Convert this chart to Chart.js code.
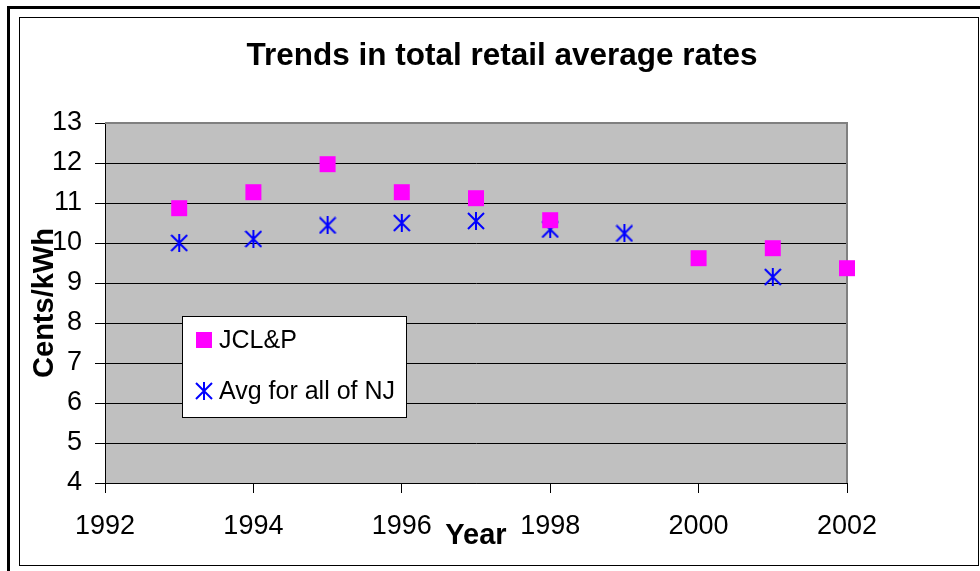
<!DOCTYPE html>
<html>
<head>
<meta charset="utf-8">
<title>Trends in total retail average rates</title>
<script src="https://cdn.jsdelivr.net/npm/chart.js@4.4.1/dist/chart.umd.min.js"></script>
<style>
  html, body { margin: 0; padding: 0; background: #ffffff; }
  #wrap { width: 980px; height: 571px; position: relative; }
</style>
</head>
<body>
<div id="wrap"><canvas id="rates" width="980" height="571"></canvas></div>
<script>
// Years and average retail rates (cents per kWh); null = no value that year
const years = [1993, 1994, 1995, 1996, 1997, 1998, 1999, 2000, 2001, 2002];
const jclpRates = [10.87, 11.27, 11.97, 11.27, 11.12, 10.57, null, 9.62, 9.87, 9.37];
const njAvgRates = [10.0, 10.1, 10.44, 10.5, 10.55, 10.34, 10.24, null, 9.15, null];
const seriesNames = ['JCL&P', 'Avg for all of NJ'];
const xTickValues = [1992, 1994, 1996, 1998, 2000, 2002];
const yTickValues = [4, 5, 6, 7, 8, 9, 10, 11, 12, 13];
const chartTitle = 'Trends in total retail average rates';
const xAxisTitle = 'Year';
const yAxisTitle = 'Cents/kWh';

const FONT = '"Liberation Sans", Arial, Helvetica, sans-serif';
Chart.defaults.font.family = FONT;
Chart.defaults.color = '#000000';

function toPoints(values) {
  const pts = [];
  values.forEach((v, i) => { if (v !== null) pts.push({ x: years[i], y: v }); });
  return pts;
}

// Asterisk marker: one vertical stroke plus two diagonals
function makeAsterisk(size, color, lw) {
  const c = document.createElement('canvas');
  c.width = size; c.height = size;
  const g = c.getContext('2d');
  g.strokeStyle = color;
  g.lineWidth = lw;
  g.lineCap = 'butt';
  g.beginPath();
  g.moveTo(size / 2, 0); g.lineTo(size / 2, size);
  g.moveTo(1, 1); g.lineTo(size - 1, size - 1);
  g.moveTo(size - 1, 1); g.lineTo(1, size - 1);
  g.stroke();
  return c;
}
const asterisk = makeAsterisk(18, '#0000FF', 2);

// Page frame, plot background and plot border
const framePlugin = {
  id: 'frame',
  beforeDraw(chart) {
    const ctx = chart.ctx;
    const a = chart.chartArea;
    ctx.save();
    ctx.fillStyle = '#ffffff';
    ctx.fillRect(0, 0, chart.width, chart.height);
    // outer heavy rule
    ctx.fillStyle = '#000000';
    ctx.fillRect(7, 6, 3, chart.height - 6);
    ctx.fillRect(7, 6, chart.width - 7, 3);
    // inner thin frame
    ctx.strokeStyle = '#000000';
    ctx.lineWidth = 1;
    ctx.strokeRect(19.5, 17.5, 959, 548);
    // plot area fill
    ctx.fillStyle = '#C0C0C0';
    ctx.fillRect(a.left, a.top, a.right - a.left, a.bottom - a.top);
    ctx.restore();
  },
  beforeDatasetsDraw(chart) {
    const ctx = chart.ctx;
    const a = chart.chartArea;
    ctx.save();
    ctx.strokeStyle = '#808080';
    ctx.lineWidth = 2;
    ctx.beginPath();
    ctx.moveTo(a.left, a.top);
    ctx.lineTo(a.right, a.top);
    ctx.lineTo(a.right, a.bottom);
    ctx.stroke();
    ctx.restore();
  },
  afterDraw(chart) {
    const ctx = chart.ctx;
    ctx.save();
    // chart heading
    ctx.fillStyle = '#000000';
    ctx.font = 'bold 31.5px ' + FONT;
    ctx.textAlign = 'center';
    ctx.textBaseline = 'middle';
    ctx.fillText(chartTitle, 502, 56);

    // legend box inside plot
    const box = { x: 182, y: 316, w: 224, h: 101 };
    ctx.fillStyle = '#ffffff';
    ctx.fillRect(box.x, box.y, box.w, box.h);
    ctx.strokeStyle = '#000000';
    ctx.lineWidth = 1;
    ctx.strokeRect(box.x + 0.5, box.y + 0.5, box.w, box.h);
    const rows = [340, 391];
    chart.data.datasets.forEach((ds, i) => {
      Chart.helpers.drawPoint(ctx, {
        pointStyle: ds.pointStyle,
        radius: ds.pointRadius,
        rotation: 0,
        borderWidth: 0
      }, 204, rows[i]);
      ctx.fillStyle = ds.backgroundColor;
      if (ds.pointStyle === 'rect') {
        const s = ds.pointRadius * Math.SQRT1_2;
        ctx.fillRect(204 - s, rows[i] - s, 2 * s, 2 * s);
      }
      ctx.fillStyle = '#000000';
      ctx.font = '25px ' + FONT;
      ctx.textAlign = 'left';
      ctx.textBaseline = 'middle';
      ctx.fillText(ds.label, 219, rows[i] + 1);
    });
    ctx.restore();
  }
};

new Chart(document.getElementById('rates'), {
  type: 'scatter',
  data: {
    datasets: [
      {
        label: seriesNames[0],
        data: toPoints(jclpRates),
        pointStyle: 'rect',
        pointRadius: 11.3,
        pointHoverRadius: 11.3,
        backgroundColor: '#FF00FF',
        borderColor: '#FF00FF',
        borderWidth: 0,
        clip: false
      },
      {
        label: seriesNames[1],
        data: toPoints(njAvgRates),
        pointStyle: asterisk,
        pointRadius: 9,
        pointHoverRadius: 9,
        backgroundColor: '#0000FF',
        borderColor: '#0000FF',
        borderWidth: 0,
        clip: false
      }
    ]
  },
  options: {
    responsive: false,
    devicePixelRatio: 1,
    animation: false,
    events: [],
    layout: { padding: { left: 0, right: 133, top: 123, bottom: 0 } },
    plugins: {
      legend: { display: false },
      title: { display: false },
      tooltip: { enabled: false }
    },
    scales: {
      x: {
        type: 'linear',
        position: 'bottom',
        min: xTickValues[0],
        max: xTickValues[xTickValues.length - 1],
        afterBuildTicks(scale) { scale.ticks = xTickValues.map(v => ({ value: v })); },
        afterFit(scale) { scale.height = 88; },
        ticks: {
          callback: v => String(v),
          font: { size: 27 },
          color: '#000000',
          padding: 17,
          maxRotation: 0,
          autoSkip: false
        },
        grid: {
          drawOnChartArea: false,
          drawTicks: true,
          tickLength: 10,
          color: '#000000',
          lineWidth: 1
        },
        border: { display: true, color: '#000000', width: 1 },
        title: {
          display: true,
          text: xAxisTitle,
          font: { size: 29, weight: 'bold' },
          color: '#000000',
          padding: { top: 0, bottom: 17.6 }
        }
      },
      y: {
        type: 'linear',
        min: yTickValues[0],
        max: yTickValues[yTickValues.length - 1],
        afterBuildTicks(scale) { scale.ticks = yTickValues.map(v => ({ value: v })); },
        afterFit(scale) { scale.width = 105; },
        ticks: {
          callback: v => String(v),
          font: { size: 27 },
          color: '#000000',
          padding: 13,
          autoSkip: false
        },
        grid: {
          drawOnChartArea: true,
          drawTicks: true,
          tickLength: 10,
          color: ctx => (ctx.tick && ctx.tick.value === 13) ? '#808080' : '#000000',
          tickColor: '#000000',
          lineWidth: 1
        },
        border: { display: true, color: '#000000', width: 1 },
        title: {
          display: true,
          text: yAxisTitle,
          font: { size: 29, weight: 'bold' },
          color: '#000000',
          padding: { top: 27.5, bottom: 0 }
        }
      }
    }
  },
  plugins: [framePlugin]
});
</script>
</body>
</html>
